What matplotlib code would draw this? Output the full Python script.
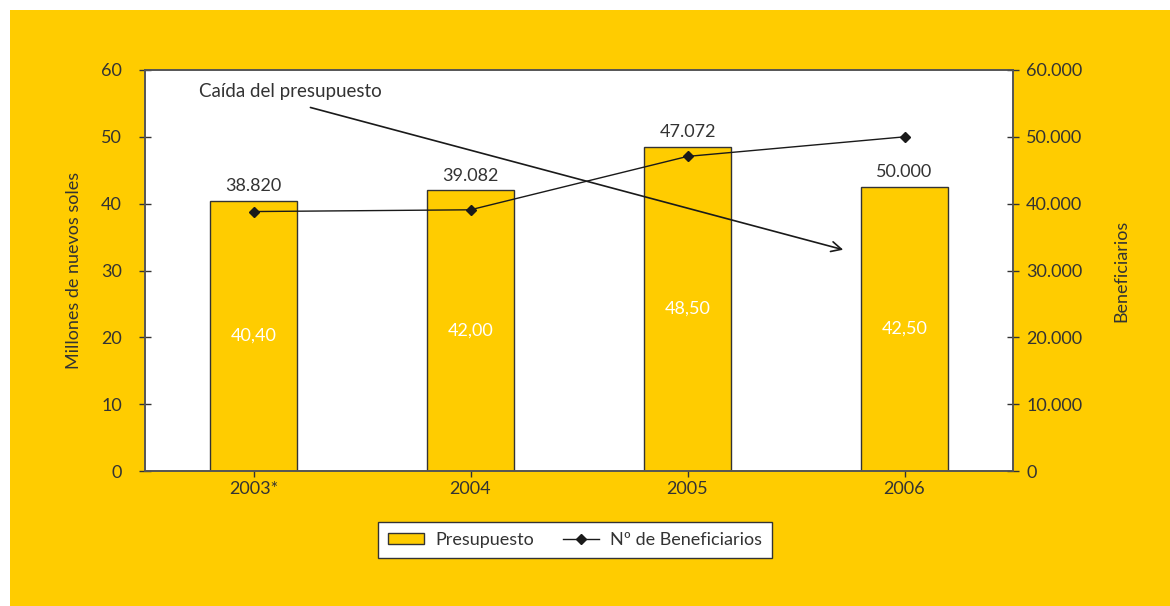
import matplotlib
matplotlib.use("Agg")
import matplotlib.pyplot as plt
from matplotlib.patches import Rectangle

plt.rcParams['font.family'] = ['Lato', 'DejaVu Sans']

years = ['2003*', '2004', '2005', '2006']
presupuesto = [40.40, 42.00, 48.50, 42.50]
presupuesto_labels = ['40,40', '42,00', '48,50', '42,50']
beneficiarios = [38820, 39082, 47072, 50000]
beneficiarios_labels = ['38.820', '39.082', '47.072', '50.000']
left_ticks = [0, 10, 20, 30, 40, 50, 60]
right_ticks = [0, 10000, 20000, 30000, 40000, 50000, 60000]
right_tick_labels = ['0', '10.000', '20.000', '30.000', '40.000', '50.000', '60.000']

yellow = '#FFCC00'
txt = '#333333'

fig = plt.figure(figsize=(11.7, 6.06), dpi=100)
fig.patch.set_facecolor('white')
bg = Rectangle((10 / 1170, 0), 1, 1 - 10 / 606, transform=fig.transFigure,
               facecolor=yellow, edgecolor='none', zorder=-10)
fig.add_artist(bg)

ax = fig.add_axes([145 / 1170, 1 - 471 / 606, 868 / 1170, 401 / 606])
ax.set_facecolor('white')
x = list(range(len(years)))
bars = ax.bar(x, presupuesto, width=0.4, color=yellow, edgecolor='#333333', linewidth=1,
              label='Presupuesto', zorder=2)
ax.set_xlim(-0.5, 3.5)
ax.set_ylim(0, 60)
ax.set_yticks(left_ticks)
ax.set_xticks(x)
ax.set_xticklabels(years)
for xi, v, lab in zip(x, presupuesto, presupuesto_labels):
    ax.text(xi, v / 2, lab, ha='center', va='center', color='white', fontsize=13)

ax2 = ax.twinx()
ax2.set_ylim(0, 60000)
ax2.set_yticks(right_ticks)
ax2.set_yticklabels(right_tick_labels)
line, = ax2.plot(x, beneficiarios, color='#1a1a1a', linewidth=1, marker='D', markersize=5,
                 label='Nº de Beneficiarios', zorder=3)
for xi, v, lab in zip(x, presupuesto, beneficiarios_labels):
    ax.text(xi, v + 1.0, lab, ha='center', va='bottom', color=txt, fontsize=13)

for a in (ax, ax2):
    for s in a.spines.values():
        s.set_color('#555555')
        s.set_linewidth(1.2)
    a.tick_params(axis='both', direction='inout', length=9, width=1, colors='#333333',
                  labelsize=13, labelcolor=txt)
ax.tick_params(axis='x', length=8)
ax.tick_params(axis='y', pad=12)
ax2.tick_params(axis='y', pad=5)

ax.set_ylabel('Millones de nuevos soles', fontsize=13, color=txt, labelpad=14)
ax2.set_ylabel('Beneficiarios', fontsize=13, color=txt, labelpad=22)

ax.annotate('', xy=(2.73, 33), xytext=(0.25, 54.5),
            arrowprops=dict(arrowstyle='->', color='#1a1a1a', lw=1.2, mutation_scale=18))
ax.text(0.17, 56.8, 'Caída del presupuesto', fontsize=13.5, color=txt, ha='center', va='center')

leg = fig.legend(handles=[bars, line], loc='center', bbox_to_anchor=(575 / 1170, 1 - 540 / 606),
                 ncol=2, frameon=True, fancybox=False, fontsize=13, handlelength=2.0,
                 handleheight=0.5, handletextpad=0.6, columnspacing=1.6, borderpad=0.55,
                 framealpha=1, facecolor='white')
leg.get_frame().set_edgecolor('#333333')
leg.get_frame().set_linewidth(1)
for t in leg.get_texts():
    t.set_color(txt)

fig.savefig('out.png', dpi=100, facecolor=fig.get_facecolor())
